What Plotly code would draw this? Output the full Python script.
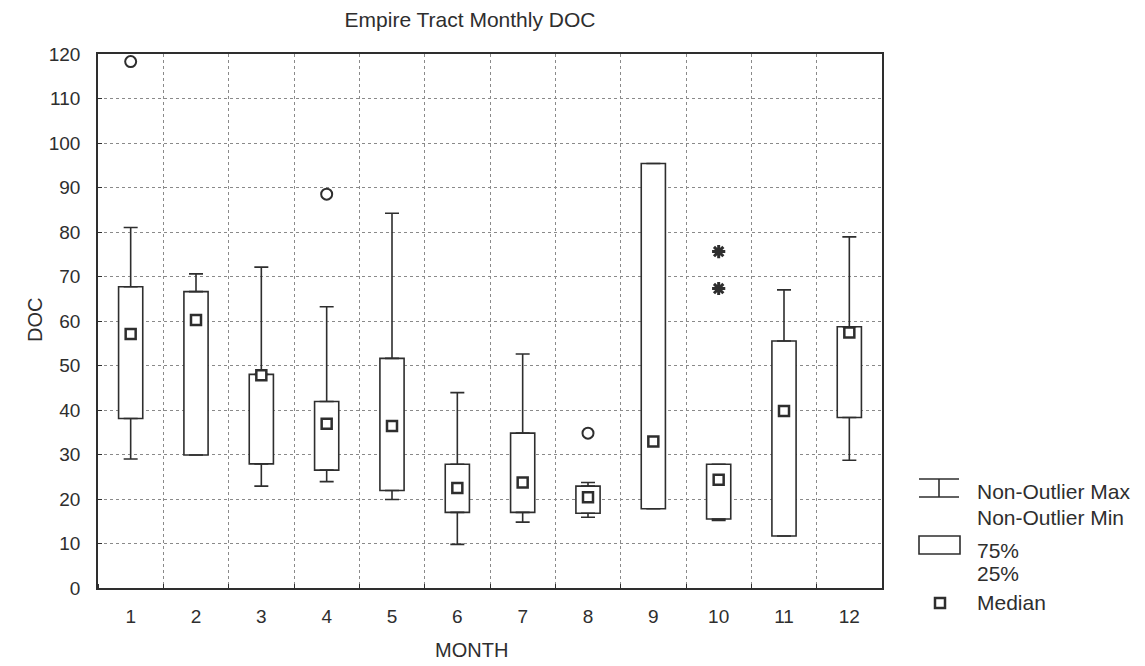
import plotly.graph_objects as go

# ---- data ----
months = [1, 2, 3, 4, 5, 6, 7, 8, 9, 10, 11, 12]
month_labels = [str(m) for m in months]
whisker_max = [81.0, 70.6, 72.1, 63.2, 84.2, 43.9, 52.6, 23.7, 95.4, 27.8, 67.0, 78.9]
q75 = [67.7, 66.6, 48.0, 41.9, 51.6, 27.8, 34.8, 22.9, 95.4, 27.8, 55.5, 58.7]
medians = [57.1, 60.2, 47.8, 36.9, 36.4, 22.5, 23.7, 20.4, 32.9, 24.3, 39.8, 57.4]
q25 = [38.1, 29.9, 27.9, 26.5, 21.9, 17.0, 17.0, 16.8, 17.8, 15.5, 11.7, 38.3]
whisker_min = [29.0, 29.9, 22.9, 23.9, 19.9, 9.8, 14.8, 15.9, 17.8, 15.2, 11.7, 28.7]
outlier_month = [1, 4, 8]
outlier_val = [118.3, 88.5, 34.8]
extreme_month = [10, 10]
extreme_val = [75.6, 67.3]
y_ticks = list(range(0, 121, 10))

INK = "#2e2e2e"
GRID = "#8a8a8a"
FONT = "Liberation Sans, Arial, sans-serif"

fig = go.Figure()

# boxes (25%-75%)
fig.add_trace(go.Bar(
    x=months, y=[a - b for a, b in zip(q75, q25)], base=q25, width=0.37,
    marker=dict(color="white", line=dict(color=INK, width=1.6)),
    showlegend=False, hoverinfo="skip"))

# upper whiskers
fig.add_trace(go.Scatter(
    x=months, y=q75, mode="markers", marker=dict(size=1, opacity=0),
    error_y=dict(type="data", symmetric=False,
                 array=[a - b for a, b in zip(whisker_max, q75)],
                 arrayminus=[0] * len(months), color=INK, thickness=1.6, width=7),
    showlegend=False, hoverinfo="skip"))
# lower whiskers
fig.add_trace(go.Scatter(
    x=months, y=q25, mode="markers", marker=dict(size=1, opacity=0),
    error_y=dict(type="data", symmetric=False,
                 array=[0] * len(months),
                 arrayminus=[a - b for a, b in zip(q25, whisker_min)],
                 color=INK, thickness=1.6, width=7),
    showlegend=False, hoverinfo="skip"))

# medians
fig.add_trace(go.Scatter(
    x=months, y=medians, mode="markers",
    marker=dict(symbol="square", size=10, color="white", line=dict(color=INK, width=2.5)),
    showlegend=False))
# outliers
fig.add_trace(go.Scatter(
    x=outlier_month, y=outlier_val, mode="markers",
    marker=dict(symbol="circle-open", size=11, color=INK, line=dict(width=2)),
    showlegend=False))
# extremes
fig.add_trace(go.Scatter(
    x=extreme_month, y=extreme_val, mode="markers",
    marker=dict(symbol="asterisk-open", size=11, color=INK, line=dict(width=3, color=INK)),
    showlegend=False))

L, R, T, B = 98, 263, 54, 78
W, H = 1145, 666
pw, ph = W - L - R, H - T - B


def px(x):
    return (x - L) / pw


def py(y):
    return (H - B - y) / ph


shapes = [
    # legend: whisker symbol
    dict(type="line", x0=px(919), x1=px(959), y0=py(479), y1=py(479)),
    dict(type="line", x0=px(939), x1=px(939), y0=py(479), y1=py(497)),
    dict(type="line", x0=px(919), x1=px(959), y0=py(497), y1=py(497)),
    # legend: box symbol
    dict(type="rect", x0=px(919), x1=px(960), y0=py(536), y1=py(554)),
    # legend: median symbol
    dict(type="rect", x0=px(935), x1=px(945), y0=py(598), y1=py(608),
         line=dict(color=INK, width=2.5)),
]
for s in shapes:
    s.update(xref="paper", yref="paper")
    s.setdefault("line", dict(color=INK, width=1.6))

ann_font = dict(family=FONT, size=21, color=INK)
annotations = []
for text, ypx in [("Non-Outlier Max", 491), ("Non-Outlier Min", 517),
                  ("75%", 550), ("25%", 573), ("Median", 602)]:
    annotations.append(dict(text=text, x=px(975), y=py(ypx), xref="paper", yref="paper",
                            xanchor="left", yanchor="middle", showarrow=False, font=ann_font))
annotations.append(dict(text="MONTH", x=px(471), y=py(650), xref="paper", yref="paper",
                        xanchor="center", yanchor="middle", showarrow=False,
                        font=dict(family=FONT, size=20, color=INK)))
annotations.append(dict(text="DOC", x=px(35), y=py(320), xref="paper", yref="paper",
                        xanchor="center", yanchor="middle", textangle=-90, showarrow=False,
                        font=dict(family=FONT, size=20, color=INK)))

fig.update_layout(
    width=W, height=H,
    margin=dict(l=L, r=R, t=T, b=B),
    paper_bgcolor="white", plot_bgcolor="white",
    font=dict(family=FONT, color=INK),
    title=dict(text="Empire Tract Monthly DOC", xref="container", yref="container",
               x=470 / W, y=1 - 20 / H, xanchor="center", yanchor="middle",
               font=dict(family=FONT, size=21, color=INK)),
    shapes=shapes, annotations=annotations,
    showlegend=False,
)
fig.update_xaxes(
    range=[0.5, 12.5], tickmode="array", tickvals=months, ticktext=month_labels,
    ticks="", showgrid=False, zeroline=False,
    showline=True, mirror=True, linecolor=INK, linewidth=1.6,
    tickfont=dict(size=19, color=INK), ticklabelstandoff=10,
    minor=dict(tick0=0.5, dtick=1, ticks="inside", ticklen=4, tickcolor=INK,
               showgrid=True, gridcolor=GRID, griddash="dot", gridwidth=1),
)
fig.update_yaxes(
    range=[0, 120], tickmode="array", tickvals=y_ticks,
    ticks="inside", ticklen=4, tickcolor=INK,
    showgrid=True, gridcolor=GRID, griddash="dot", gridwidth=1, zeroline=False,
    showline=True, mirror=True, linecolor=INK, linewidth=1.6,
    tickfont=dict(size=19, color=INK), ticklabelstandoff=12,
)

fig.write_html("out.html", config={"displayModeBar": False},
               post_script="document.body.style.margin='0';document.body.style.overflow='hidden';")
